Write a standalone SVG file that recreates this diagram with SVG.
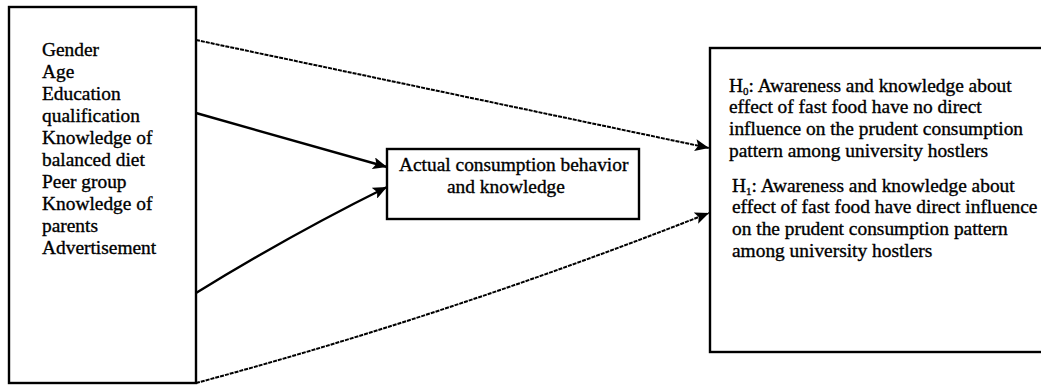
<svg xmlns="http://www.w3.org/2000/svg" width="1041" height="385" viewBox="0 0 1041 385">
<style>
.box{fill:#fff;stroke:#000;stroke-width:2.4}
.t{font-family:"Liberation Serif","Times New Roman",serif;font-size:19.4px;fill:#000;stroke:#000;stroke-width:0.35}
.sub{font-size:11px}
.solid{fill:none;stroke:#000;stroke-width:2.4}
.dash{fill:none;stroke:#000;stroke-width:2;stroke-dasharray:4 1}
</style>
<defs>
<marker id="ah" viewBox="0 0 14 12" refX="14" refY="6" markerWidth="14" markerHeight="12" markerUnits="userSpaceOnUse" orient="auto">
<path d="M0,0 L14,6 L0,12 L3,6 Z" fill="#000"/>
</marker>
</defs>
<g id="factors">
<rect class="box" x="9" y="7" width="187" height="376"/>
<text class="t" x="42" y="56">Gender</text>
<text class="t" x="42" y="78">Age</text>
<text class="t" x="42" y="100">Education</text>
<text class="t" x="42" y="122">qualification</text>
<text class="t" x="42" y="144">Knowledge of</text>
<text class="t" x="42" y="166">balanced diet</text>
<text class="t" x="42" y="188">Peer group</text>
<text class="t" x="42" y="210">Knowledge of</text>
<text class="t" x="42" y="232">parents</text>
<text class="t" x="42" y="254">Advertisement</text>
</g>
<g id="behavior">
<rect class="box" x="387" y="149" width="252" height="70"/>
<text class="t" x="399" y="171">Actual consumption behavior</text>
<text class="t" x="447" y="193">and knowledge</text>
</g>
<g id="hypotheses">
<rect class="box" x="710" y="48" width="340" height="304"/>
<text class="t" x="729" y="92">H<tspan class="sub" dy="3">0</tspan><tspan dy="-3">: Awareness and knowledge about</tspan></text>
<text class="t" x="729" y="113">effect of fast food have no direct</text>
<text class="t" x="729" y="135">influence on the prudent consumption</text>
<text class="t" x="729" y="157">pattern among university hostlers</text>
<text class="t" x="732" y="192">H<tspan class="sub" dy="3">1</tspan><tspan dy="-3">: Awareness and knowledge about</tspan></text>
<text class="t" x="732" y="213">effect of fast food have direct influence</text>
<text class="t" x="732" y="235">on the prudent consumption pattern</text>
<text class="t" x="732" y="257">among university hostlers</text>
</g>
<g id="connectors">
<path class="dash" d="M196,40 L709,148" marker-end="url(#ah)"/>
<path class="solid" d="M196,113 L387,167" marker-end="url(#ah)"/>
<path class="solid" d="M196,293 Q290,235 387,187" marker-end="url(#ah)"/>
<path class="dash" d="M196,383 Q450,315 709,213" marker-end="url(#ah)"/>
</g>
</svg>
